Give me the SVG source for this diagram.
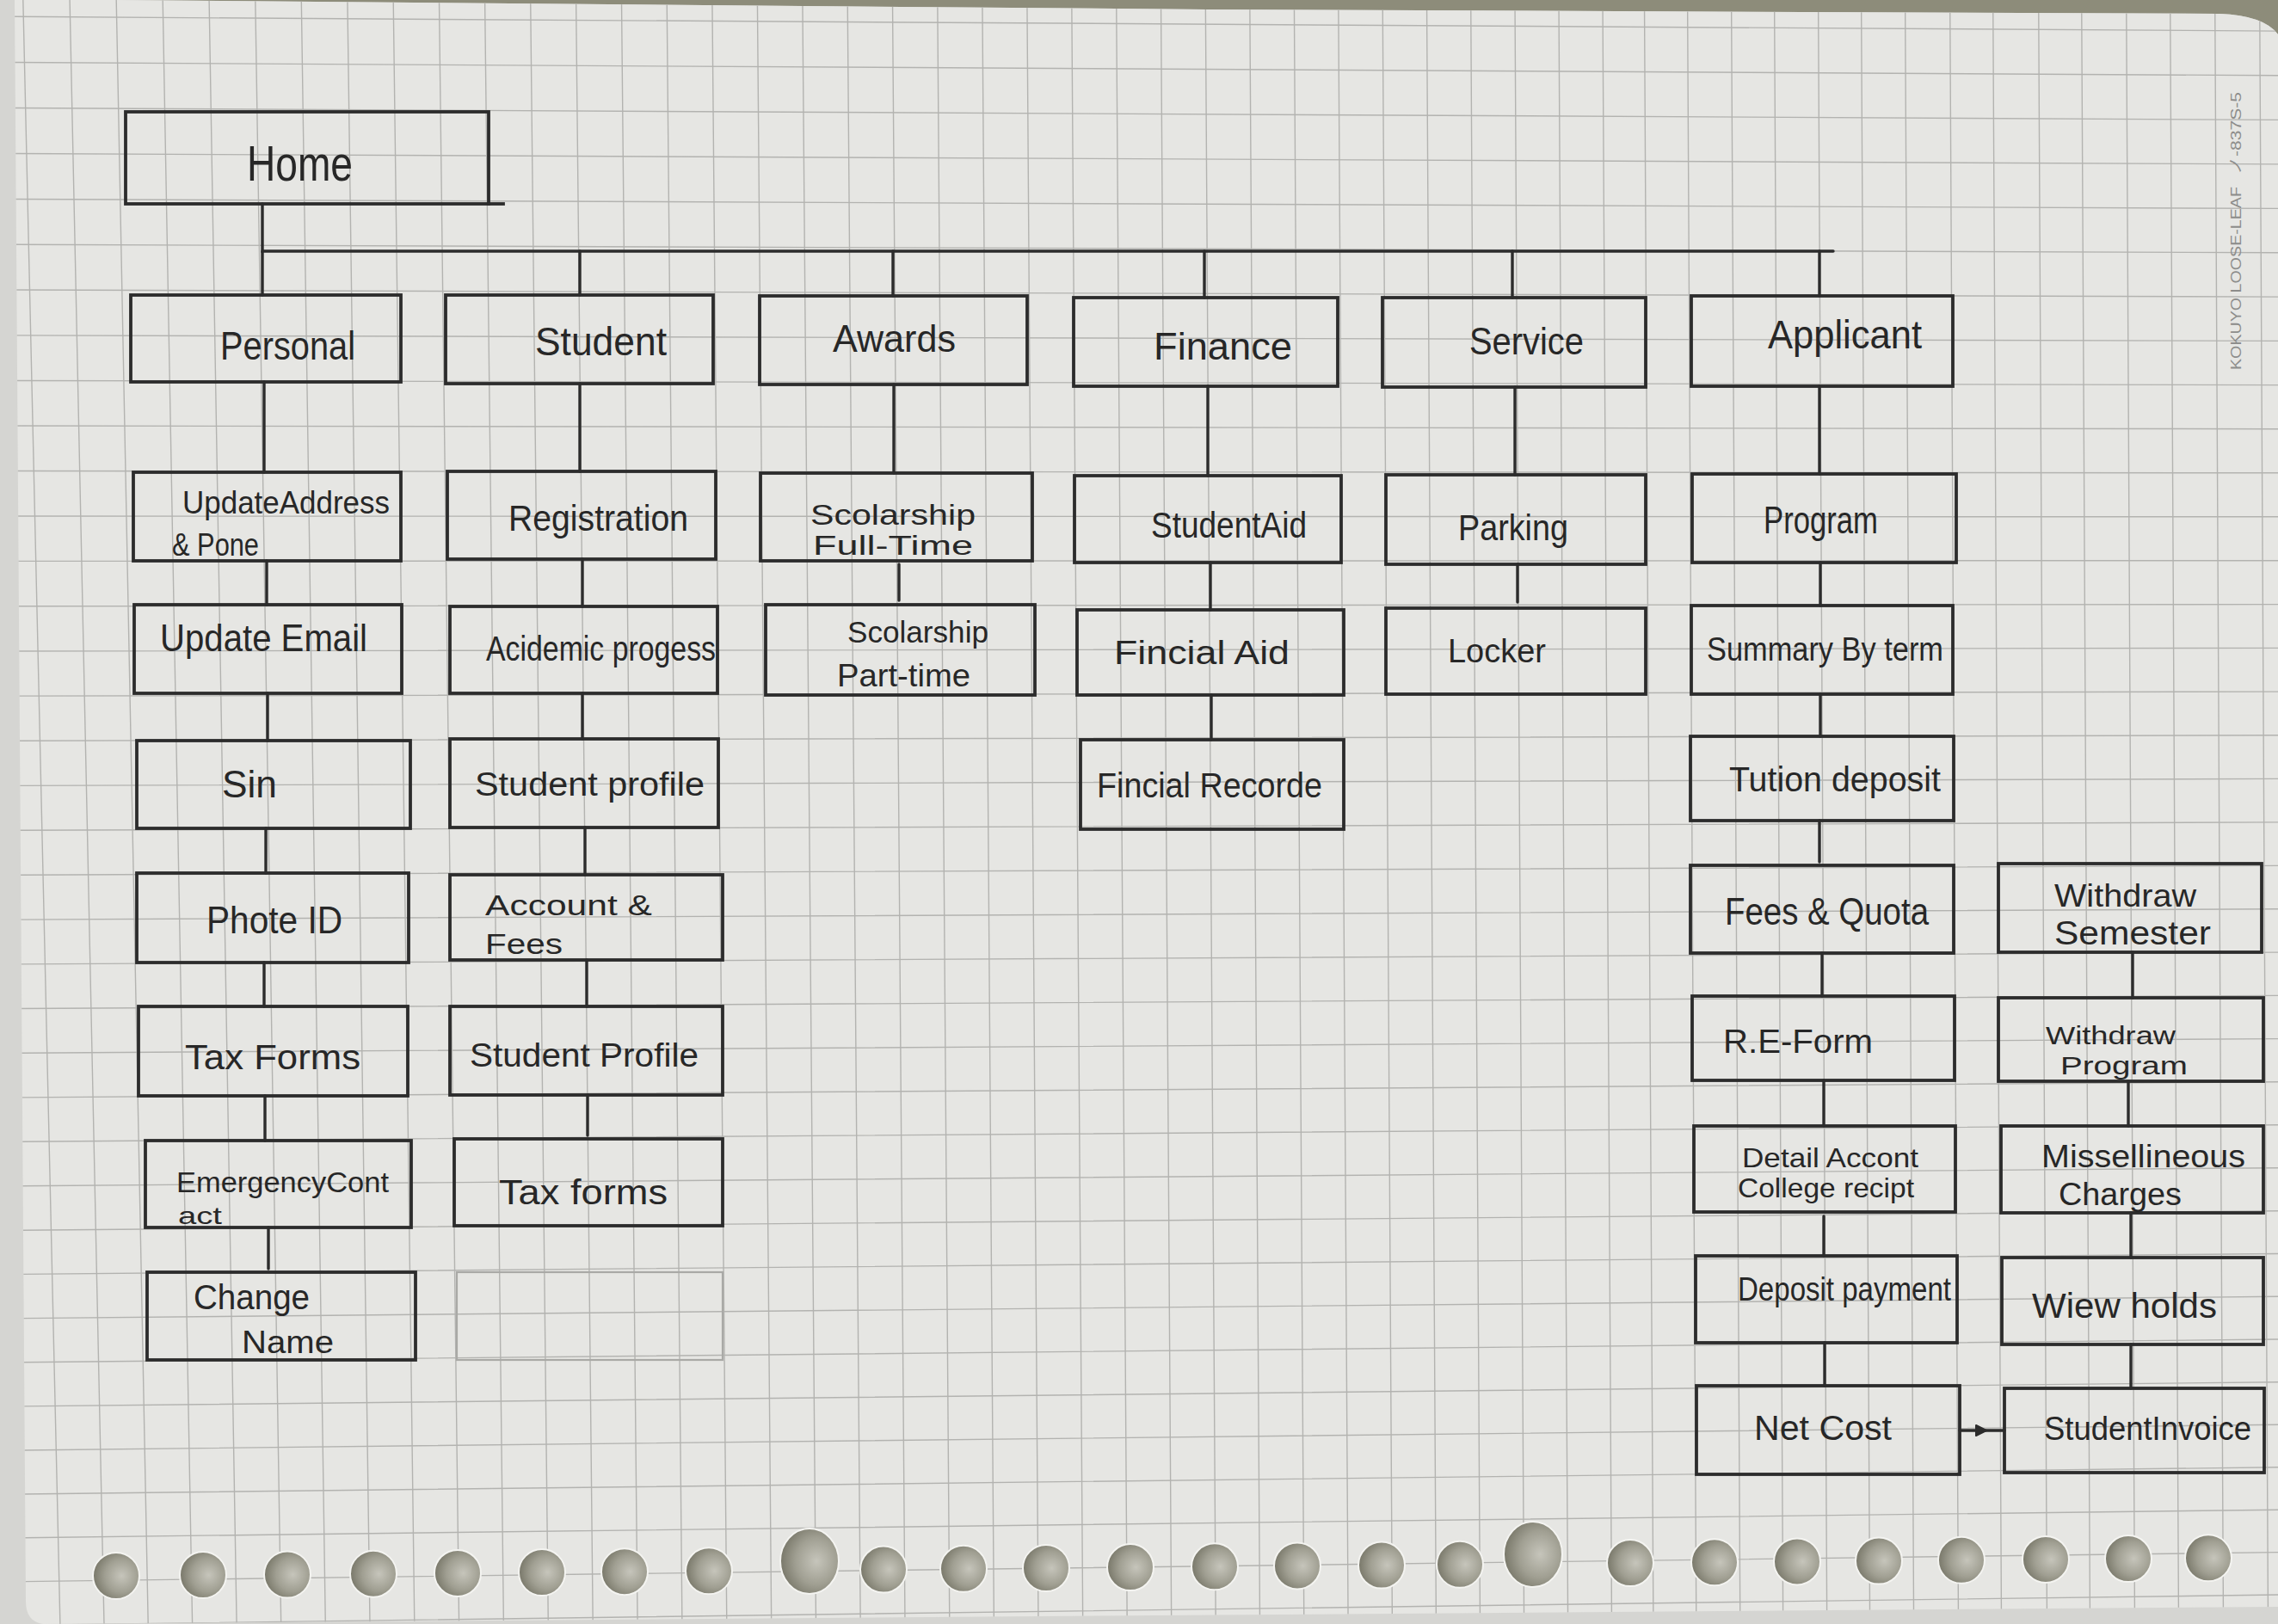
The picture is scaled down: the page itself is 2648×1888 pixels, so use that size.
<svg xmlns="http://www.w3.org/2000/svg" width="2648" height="1888" viewBox="0 0 2648 1888">
  <defs>
    <style>
      .box { fill: none; stroke: #2c2c2c; stroke-width: 3.8; stroke-linecap: square; }
      .ink { fill: none; stroke: #2c2c2c; stroke-width: 3.4; stroke-linecap: round; }
      .lbl { font-family: "Liberation Sans Narrow", "Liberation Sans", "DejaVu Sans", sans-serif; fill: #272727; }
      .grid { fill: none; stroke: #b3b3b0; stroke-width: 1.4; }
      .faint { fill: none; stroke: #a9a9a6; stroke-width: 2.2; }
      .hole { fill: url(#holeFill); stroke: #f4f4f1; stroke-width: 2; }
      .brand { font-family: "Liberation Sans", "Noto Sans CJK JP", sans-serif; fill: #8d8d8b; font-size: 17px; }
    </style>
    <radialGradient id="holeFill" cx="0.62" cy="0.5" r="0.6">
      <stop offset="0" stop-color="#c6c5bb"/>
      <stop offset="0.6" stop-color="#a09f92"/>
      <stop offset="1" stop-color="#7b7a6c"/>
    </radialGradient>
    <clipPath id="sheet">
      <path d="M17,0 L135,0 L1402,11 L2580,16 Q2632,18 2648,40 L2648,1868 L50,1888 Q30,1885 30,1862 Z"/>
    </clipPath>
    <marker id="tri" viewBox="0 0 12 12" refX="6" refY="6" markerWidth="16" markerHeight="16" markerUnits="userSpaceOnUse" orient="auto">
      <path d="M1.5,1.5 L10.5,6 L1.5,10.5 Z" fill="#2c2c2c" stroke="#2c2c2c" stroke-width="1.5" stroke-linejoin="round"/>
    </marker>
  </defs>

  <!-- desk behind the sheet -->
  <rect x="0" y="0" width="2648" height="1888" fill="#d5d5d2"/>
  <path d="M0,0 L2648,0 L2648,40 Q2632,18 2580,16 L1402,11 L135,0 Z" fill="#8d8c7a"/>

  <!-- loose-leaf sheet -->
  <path d="M17,0 L135,0 L1402,11 L2580,16 Q2632,18 2648,40 L2648,1868 L50,1888 Q30,1885 30,1862 Z" fill="#e6e6e3"/>

  <!-- ruled grid -->
  <g clip-path="url(#sheet)">
    <path class="grid" d="M0,19.2L2648,36.1M0,72.4L2648,87.8M0,125.4L2648,139.4M0,178.4L2648,190.9M0,231.4L2648,242.4M0,284.2L2648,293.8M0,337L2648,345.1M0,389.8L2648,396.4M0,442.4L2648,447.6M0,495L2648,498.7M0,547.5L2648,549.8M0,600L2648,600.8M0,652.4L2648,651.7M0,704.7L2648,702.6M0,757L2648,753.4M0,809.2L2648,804.1M0,861.3L2648,854.8M0,913.4L2648,905.4M0,965.4L2648,955.9M0,1017.3L2648,1006.4M0,1069.2L2648,1056.8M0,1121L2648,1107.1M0,1172.7L2648,1157.4M0,1224.4L2648,1207.6M0,1276L2648,1257.7M0,1327.4L2648,1307.7M0,1378.9L2648,1357.7M0,1430.4L2648,1407.7M0,1481.6L2648,1457.5M0,1532.9L2648,1507.3M0,1584.1L2648,1557M0,1635.2L2648,1606.7M0,1686.3L2648,1656.3M0,1737.3L2648,1705.8M0,1788.1L2648,1755.2M0,1839L2648,1804.6M0,1889.8L2648,1854"/>
    <path class="grid" d="M26.8,0L69.9,1888M81.1,0L121,1888M135.2,0L172.2,1888M189.2,0L223.6,1888M243.1,0L275.1,1888M296.8,0L326.7,1888M350.3,0L378.3,1888M403.9,0L430,1888M457.2,0L481.8,1888M510.5,0L533.6,1888M563.6,0L585.4,1888M616.7,0L637.3,1888M669.6,0L689.2,1888M722.5,0L741.1,1888M775.2,0L792.9,1888M827.9,0L844.8,1888M880.4,0L896.7,1888M932.9,0L948.5,1888M985.2,0L1000.2,1888M1037.5,0L1052,1888M1089.8,0L1103.8,1888M1141.9,0L1155.4,1888M1193.9,0L1207,1888M1245.8,0L1258.7,1888M1297.7,0L1310.2,1888M1349.5,0L1361.7,1888M1401.3,0L1413.2,1888M1452.8,0L1464.5,1888M1504.4,0L1515.8,1888M1555.8,0L1567.1,1888M1607.2,0L1618.4,1888M1658.5,0L1669.4,1888M1709.7,0L1720.5,1888M1761,0L1771.6,1888M1812,0L1822.6,1888M1863,0L1873.5,1888M1911.5,0L1921.9,1888M1961.6,0L1971.8,1888M2012.6,0L2022.8,1888M2062.6,0L2072.7,1888M2113.6,0L2123.7,1888M2163.6,0L2173.6,1888M2214.6,0L2224.6,1888M2266.7,0L2276.5,1888M2316.7,0L2326.5,1888M2369.7,0L2379.5,1888M2419.7,0L2429.5,1888M2471.7,0L2481.5,1888M2522.7,0L2532.5,1888M2574.7,0L2584.5,1888M2626.7,0L2636.5,1888"/>
  </g>

  <!-- punched binder holes -->
  <g id="holes">
    <circle class="hole" cx="135" cy="1832" r="27"/>
    <circle class="hole" cx="236" cy="1831" r="27"/>
    <circle class="hole" cx="334" cy="1830.5" r="27"/>
    <circle class="hole" cx="434" cy="1829.7" r="27"/>
    <circle class="hole" cx="532" cy="1828.9" r="27"/>
    <circle class="hole" cx="630" cy="1828" r="27"/>
    <circle class="hole" cx="726" cy="1827.2" r="27"/>
    <circle class="hole" cx="824" cy="1826.3" r="27"/>
    <ellipse class="hole" cx="941" cy="1815" rx="34" ry="38"/>
    <circle class="hole" cx="1027" cy="1824.6" r="27"/>
    <circle class="hole" cx="1120" cy="1823.8" r="27"/>
    <circle class="hole" cx="1216" cy="1823" r="27"/>
    <circle class="hole" cx="1314" cy="1822.1" r="27"/>
    <circle class="hole" cx="1412" cy="1821.3" r="27"/>
    <circle class="hole" cx="1508" cy="1820.4" r="27"/>
    <circle class="hole" cx="1606" cy="1819.6" r="27"/>
    <circle class="hole" cx="1697" cy="1818.8" r="27"/>
    <ellipse class="hole" cx="1782" cy="1807" rx="34" ry="38"/>
    <circle class="hole" cx="1895" cy="1817.1" r="27"/>
    <circle class="hole" cx="1993" cy="1816.3" r="27"/>
    <circle class="hole" cx="2089" cy="1815.4" r="27"/>
    <circle class="hole" cx="2184" cy="1814.6" r="27"/>
    <circle class="hole" cx="2280" cy="1813.8" r="27"/>
    <circle class="hole" cx="2378" cy="1812.9" r="27"/>
    <circle class="hole" cx="2474" cy="1812.1" r="27"/>
    <circle class="hole" cx="2567" cy="1811.3" r="27"/>
  </g>

  <!-- printed paper brand along the right margin -->
  <g transform="translate(2605,0) rotate(-90)">
    <text class="brand" x="-430" y="0" textLength="213" lengthAdjust="spacingAndGlyphs">KOKUYO  LOOSE-LEAF</text>
    <text class="brand" x="-203" y="0" textLength="96" lengthAdjust="spacingAndGlyphs">ノ-837S-5</text>
  </g>

  <!-- connectors -->
  <g id="connectors" class="ink">
    <path d="M305,237V292H2131"/>
    <path d="M305,292V343M674,292V343M1038,292V344M1400,292V346M1758,292V346M2115,292V344"/>
    <!-- Personal column -->
    <path d="M307,444V549M310,652V703M311,806V861M309,963V1015M307,1119V1170M308,1274V1326M312,1427V1475"/>
    <!-- Student column -->
    <path d="M674,446V548M677,650V705M677,806V859M680,962V1017M682,1116V1170M683,1273V1320"/>
    <!-- Awards column -->
    <path d="M1039,447V550M1045,656V698"/>
    <!-- Finance column -->
    <path d="M1404,449V553M1407,654V709M1408,808V860"/>
    <!-- Service column -->
    <path d="M1761,450V552M1764,656V700"/>
    <!-- Applicant column -->
    <path d="M2115,449V551M2116,654V704M2116,807V856M2115,954V1002M2118,1108V1158M2120,1256V1309M2120,1414V1460M2121,1561V1611"/>
    <!-- Withdraw column -->
    <path d="M2479,1107V1160M2474,1257V1309M2477,1410V1462M2477,1563V1614"/>
    <!-- Net Cost to Student Invoice -->
    <polyline points="2278,1663 2303,1663 2330,1663" marker-mid="url(#tri)"/>
  </g>

  <!-- nodes -->
  <g id="home"><rect class="box" x="146" y="130" width="422" height="107"/><line class="box" x1="568" y1="237" x2="585" y2="237"/>
    <text class="lbl" x="287" y="210" font-size="58" textLength="123" lengthAdjust="spacingAndGlyphs">Home</text></g>

  <g id="personal"><rect class="box" x="152" y="343" width="314" height="101"/>
    <text class="lbl" x="256" y="418" font-size="46" textLength="157" lengthAdjust="spacingAndGlyphs">Personal</text></g>
  <g id="student"><rect class="box" x="518" y="343" width="311" height="103"/>
    <text class="lbl" x="622" y="413" font-size="46" textLength="153" lengthAdjust="spacingAndGlyphs">Student</text></g>
  <g id="awards"><rect class="box" x="883" y="344" width="311" height="103"/>
    <text class="lbl" x="968" y="409" font-size="44" textLength="143" lengthAdjust="spacingAndGlyphs">Awards</text></g>
  <g id="finance"><rect class="box" x="1248" y="346" width="307" height="103"/>
    <text class="lbl" x="1341" y="418" font-size="44" textLength="161" lengthAdjust="spacingAndGlyphs">Finance</text></g>
  <g id="service"><rect class="box" x="1607" y="346" width="306" height="104"/>
    <text class="lbl" x="1708" y="412" font-size="44" textLength="133" lengthAdjust="spacingAndGlyphs">Service</text></g>
  <g id="applicant"><rect class="box" x="1966" y="344" width="304" height="105"/>
    <text class="lbl" x="2055" y="405" font-size="46" textLength="179" lengthAdjust="spacingAndGlyphs">Applicant</text></g>

  <g id="update-address"><rect class="box" x="155" y="549" width="311" height="103"/>
    <text class="lbl" x="212" y="597" font-size="36" textLength="241" lengthAdjust="spacingAndGlyphs">UpdateAddress</text>
    <text class="lbl" x="200" y="646" font-size="36" textLength="101" lengthAdjust="spacingAndGlyphs">&amp; Pone</text></g>
  <g id="registration"><rect class="box" x="520" y="548" width="312" height="102"/>
    <text class="lbl" x="591" y="617" font-size="42" textLength="209" lengthAdjust="spacingAndGlyphs">Registration</text></g>
  <g id="scholarship-full"><rect class="box" x="884" y="550" width="316" height="102"/>
    <text class="lbl" x="942" y="610" font-size="33" textLength="192" lengthAdjust="spacingAndGlyphs">Scolarship</text>
    <text class="lbl" x="945" y="645" font-size="31" textLength="186" lengthAdjust="spacingAndGlyphs">Full-Time</text></g>
  <g id="student-aid"><rect class="box" x="1249" y="553" width="310" height="101"/>
    <text class="lbl" x="1338" y="625" font-size="42" textLength="181" lengthAdjust="spacingAndGlyphs">StudentAid</text></g>
  <g id="parking"><rect class="box" x="1611" y="552" width="302" height="104"/>
    <text class="lbl" x="1695" y="628" font-size="42" textLength="128" lengthAdjust="spacingAndGlyphs">Parking</text></g>
  <g id="program"><rect class="box" x="1967" y="551" width="307" height="103"/>
    <text class="lbl" x="2050" y="620" font-size="44" textLength="133" lengthAdjust="spacingAndGlyphs">Program</text></g>

  <g id="update-email"><rect class="box" x="156" y="703" width="311" height="103"/>
    <text class="lbl" x="186" y="757" font-size="44" textLength="241" lengthAdjust="spacingAndGlyphs">Update Email</text></g>
  <g id="academic-progress"><rect class="box" x="523" y="705" width="311" height="101"/>
    <text class="lbl" x="565" y="768" font-size="40" textLength="267" lengthAdjust="spacingAndGlyphs">Acidemic progess</text></g>
  <g id="scholarship-part"><rect class="box" x="890" y="703" width="313" height="105"/>
    <text class="lbl" x="985" y="747" font-size="35" textLength="164" lengthAdjust="spacingAndGlyphs">Scolarship</text>
    <text class="lbl" x="973" y="798" font-size="37" textLength="155" lengthAdjust="spacingAndGlyphs">Part-time</text></g>
  <g id="financial-aid"><rect class="box" x="1252" y="709" width="310" height="99"/>
    <text class="lbl" x="1295" y="772" font-size="38" textLength="204" lengthAdjust="spacingAndGlyphs">Fincial Aid</text></g>
  <g id="locker"><rect class="box" x="1611" y="707" width="302" height="100"/>
    <text class="lbl" x="1683" y="770" font-size="38" textLength="114" lengthAdjust="spacingAndGlyphs">Locker</text></g>
  <g id="summary-by-term"><rect class="box" x="1966" y="704" width="304" height="103"/>
    <text class="lbl" x="1984" y="768" font-size="38" textLength="275" lengthAdjust="spacingAndGlyphs">Summary By term</text></g>

  <g id="sin"><rect class="box" x="159" y="861" width="318" height="102"/>
    <text class="lbl" x="258" y="927" font-size="44" textLength="64" lengthAdjust="spacingAndGlyphs">Sin</text></g>
  <g id="student-profile"><rect class="box" x="523" y="859" width="312" height="103"/>
    <text class="lbl" x="552" y="925" font-size="38" textLength="267" lengthAdjust="spacingAndGlyphs">Student profile</text></g>
  <g id="financial-records"><rect class="box" x="1256" y="860" width="306" height="104"/>
    <text class="lbl" x="1275" y="927" font-size="40" textLength="262" lengthAdjust="spacingAndGlyphs">Fincial Recorde</text></g>
  <g id="tuition-deposit"><rect class="box" x="1965" y="856" width="306" height="98"/>
    <text class="lbl" x="2010" y="920" font-size="40" textLength="246" lengthAdjust="spacingAndGlyphs">Tution deposit</text></g>

  <g id="photo-id"><rect class="box" x="159" y="1015" width="316" height="104"/>
    <text class="lbl" x="240" y="1085" font-size="44" textLength="158" lengthAdjust="spacingAndGlyphs">Phote ID</text></g>
  <g id="account-fees"><rect class="box" x="523" y="1017" width="317" height="99"/>
    <text class="lbl" x="564" y="1064" font-size="34" textLength="194" lengthAdjust="spacingAndGlyphs">Account &amp;</text>
    <text class="lbl" x="564" y="1109" font-size="34" textLength="90" lengthAdjust="spacingAndGlyphs">Fees</text></g>
  <g id="fees-quota"><rect class="box" x="1965" y="1006" width="306" height="102"/>
    <text class="lbl" x="2005" y="1075" font-size="44" textLength="237" lengthAdjust="spacingAndGlyphs">Fees &amp; Quota</text></g>
  <g id="withdraw-semester"><rect class="box" x="2323" y="1004" width="306" height="103"/>
    <text class="lbl" x="2388" y="1054" font-size="36" textLength="165" lengthAdjust="spacingAndGlyphs">Withdraw</text>
    <text class="lbl" x="2388" y="1098" font-size="38" textLength="182" lengthAdjust="spacingAndGlyphs">Semester</text></g>

  <g id="tax-forms-personal"><rect class="box" x="161" y="1170" width="313" height="104"/>
    <text class="lbl" x="215" y="1243" font-size="40" textLength="204" lengthAdjust="spacingAndGlyphs">Tax Forms</text></g>
  <g id="student-profile-2"><rect class="box" x="523" y="1170" width="317" height="103"/>
    <text class="lbl" x="546" y="1240" font-size="38" textLength="266" lengthAdjust="spacingAndGlyphs">Student Profile</text></g>
  <g id="re-form"><rect class="box" x="1967" y="1158" width="305" height="98"/>
    <text class="lbl" x="2003" y="1224" font-size="38" textLength="174" lengthAdjust="spacingAndGlyphs">R.E-Form</text></g>
  <g id="withdraw-program"><rect class="box" x="2323" y="1160" width="308" height="97"/>
    <text class="lbl" x="2378" y="1214" font-size="30" textLength="151" lengthAdjust="spacingAndGlyphs">Withdraw</text>
    <text class="lbl" x="2395" y="1249" font-size="30" textLength="148" lengthAdjust="spacingAndGlyphs">Program</text></g>

  <g id="emergency-contact"><rect class="box" x="169" y="1326" width="309" height="101"/>
    <text class="lbl" x="205" y="1386" font-size="34" textLength="247" lengthAdjust="spacingAndGlyphs">EmergencyCont</text>
    <text class="lbl" x="207" y="1423" font-size="28" textLength="51" lengthAdjust="spacingAndGlyphs">act</text></g>
  <g id="tax-forms-student"><rect class="box" x="528" y="1324" width="312" height="101"/>
    <text class="lbl" x="580" y="1400" font-size="40" textLength="196" lengthAdjust="spacingAndGlyphs">Tax forms</text></g>
  <g id="detail-account"><rect class="box" x="1969" y="1309" width="304" height="100"/>
    <text class="lbl" x="2025" y="1357" font-size="32" textLength="205" lengthAdjust="spacingAndGlyphs">Detail Accont</text>
    <text class="lbl" x="2020" y="1392" font-size="32" textLength="205" lengthAdjust="spacingAndGlyphs">College recipt</text></g>
  <g id="miscellaneous-charges"><rect class="box" x="2326" y="1309" width="305" height="101"/>
    <text class="lbl" x="2373" y="1357" font-size="36" textLength="237" lengthAdjust="spacingAndGlyphs">Missellineous</text>
    <text class="lbl" x="2393" y="1401" font-size="36" textLength="143" lengthAdjust="spacingAndGlyphs">Charges</text></g>

  <g id="change-name"><rect class="box" x="171" y="1479" width="312" height="102"/>
    <text class="lbl" x="225" y="1522" font-size="40" textLength="135" lengthAdjust="spacingAndGlyphs">Change</text>
    <text class="lbl" x="281" y="1573" font-size="36" textLength="107" lengthAdjust="spacingAndGlyphs">Name</text></g>
  <g id="blank-slot"><rect class="faint" x="531" y="1479" width="309" height="102"/></g>
  <g id="deposit-payment"><rect class="box" x="1971" y="1460" width="304" height="101"/>
    <text class="lbl" x="2020" y="1512" font-size="38" textLength="248" lengthAdjust="spacingAndGlyphs">Deposit payment</text></g>
  <g id="view-holds"><rect class="box" x="2327" y="1462" width="304" height="101"/>
    <text class="lbl" x="2362" y="1532" font-size="40" textLength="215" lengthAdjust="spacingAndGlyphs">Wiew holds</text></g>

  <g id="net-cost"><rect class="box" x="1972" y="1611" width="306" height="103"/>
    <text class="lbl" x="2039" y="1674" font-size="40" textLength="160" lengthAdjust="spacingAndGlyphs">Net Cost</text></g>
  <g id="student-invoice"><rect class="box" x="2330" y="1614" width="302" height="98"/>
    <text class="lbl" x="2376" y="1674" font-size="38" textLength="241" lengthAdjust="spacingAndGlyphs">StudentInvoice</text></g>
</svg>
